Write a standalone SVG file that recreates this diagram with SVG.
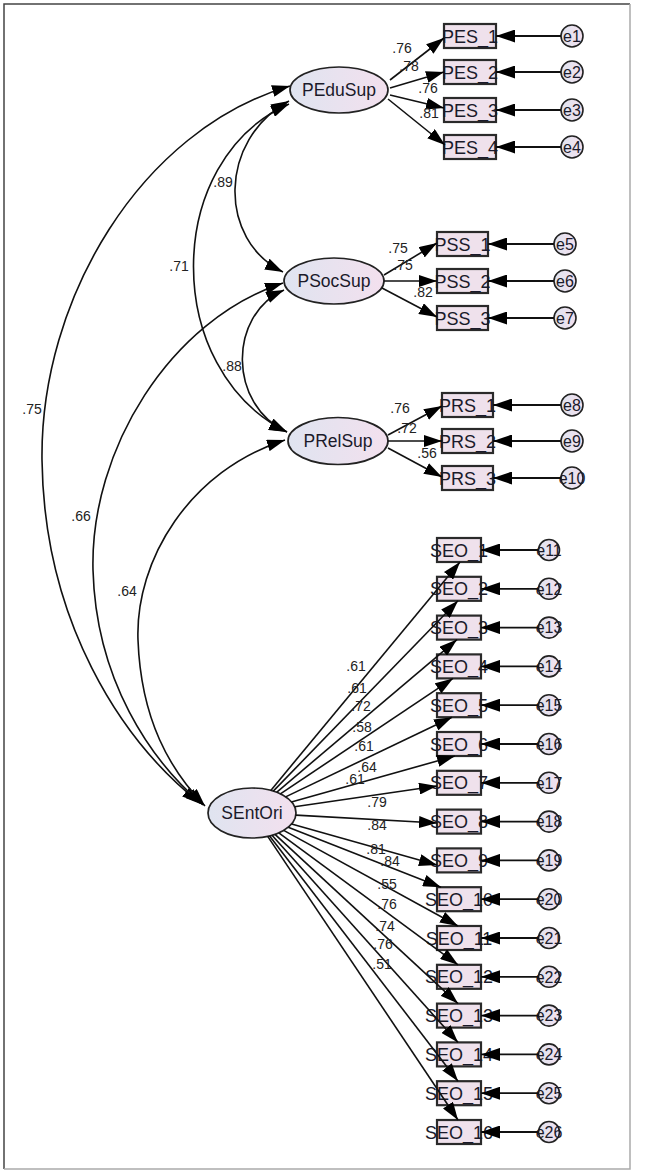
<svg xmlns="http://www.w3.org/2000/svg" width="646" height="1173" viewBox="0 0 646 1173">
<style>
text{font-family:"Liberation Sans",Arial,sans-serif;fill:#1a1a2a;text-anchor:middle}
.lat{font-size:17.5px}
.obs{font-size:18px}
.err{font-size:16px}
.num{font-size:14px;fill:#222}
.ell{stroke:#222;stroke-width:1.7;fill:url(#g)}
.box{stroke:#2a2a2a;stroke-width:2.2;fill:#efe1ec}
.ec{stroke:#222;stroke-width:1.6;fill:url(#g)}
.ln{stroke:#111;stroke-width:1.6;fill:none;marker-end:url(#ah)}
.cv{stroke:#111;stroke-width:1.6;fill:none;marker-start:url(#ah);marker-end:url(#ah)}
.er{stroke:#111;stroke-width:1.8;fill:none;marker-end:url(#eh)}
</style>
<defs>
<linearGradient id="g" x1="0" y1="0" x2="1" y2="0">
<stop offset="0" stop-color="#dfe4f0"/>
<stop offset="1" stop-color="#f3e0ee"/>
</linearGradient>
<marker id="ah" viewBox="0 0 18 12" refX="18" refY="6" markerWidth="18" markerHeight="12" markerUnits="userSpaceOnUse" orient="auto-start-reverse">
<path d="M0,0 L18,6 L0,12 z" fill="#000"/>
</marker>
<marker id="eh" viewBox="0 0 19 13" refX="19" refY="6.5" markerWidth="19" markerHeight="13" markerUnits="userSpaceOnUse" orient="auto">
<path d="M0,0 L19,6.5 L0,13 z" fill="#000"/>
</marker>
</defs>
<rect x="0" y="0" width="646" height="1173" fill="#fff"/>
<g id="frame" fill="none" stroke-width="1.5">
<path d="M4,1169 V4 H630" stroke="#444"/>
<path d="M630,4 V1169 H4" stroke="#aaa"/>
</g>

<g id="node-PEduSup"><ellipse class="ell" cx="339" cy="90" rx="49" ry="23"/><text class="lat" x="339" y="96">PEduSup</text></g>
<g id="node-PSocSup"><ellipse class="ell" cx="334" cy="281" rx="50" ry="23"/><text class="lat" x="334" y="287">PSocSup</text></g>
<g id="node-PRelSup"><ellipse class="ell" cx="338" cy="441" rx="50" ry="23.5"/><text class="lat" x="338" y="447">PRelSup</text></g>
<g id="node-SEntOri"><ellipse class="ell" cx="252" cy="813" rx="44" ry="25"/><text class="lat" x="252" y="819">SEntOri</text></g>

<g id="node-PES_1"><rect class="box" x="444" y="24" width="52" height="24"/><text class="obs" x="470" y="42.5">PES_1</text></g>
<g id="node-PES_2"><rect class="box" x="444" y="60" width="52" height="24"/><text class="obs" x="470" y="78.5">PES_2</text></g>
<g id="node-PES_3"><rect class="box" x="444" y="98" width="52" height="24"/><text class="obs" x="470" y="116.5">PES_3</text></g>
<g id="node-PES_4"><rect class="box" x="444" y="135" width="52" height="24"/><text class="obs" x="470" y="153.5">PES_4</text></g>

<g id="node-PSS_1"><rect class="box" x="437" y="232" width="51" height="24"/><text class="obs" x="462.5" y="250.5">PSS_1</text></g>
<g id="node-PSS_2"><rect class="box" x="437" y="269" width="51" height="24"/><text class="obs" x="462.5" y="287.5">PSS_2</text></g>
<g id="node-PSS_3"><rect class="box" x="437" y="306" width="51" height="24"/><text class="obs" x="462.5" y="324.5">PSS_3</text></g>

<g id="node-PRS_1"><rect class="box" x="442" y="393" width="51" height="24"/><text class="obs" x="467.5" y="411.5">PRS_1</text></g>
<g id="node-PRS_2"><rect class="box" x="442" y="429" width="51" height="24"/><text class="obs" x="467.5" y="447.5">PRS_2</text></g>
<g id="node-PRS_3"><rect class="box" x="442" y="466" width="51" height="24"/><text class="obs" x="467.5" y="484.5">PRS_3</text></g>

<g id="node-SEO_1"><rect class="box" x="437" y="538" width="44" height="24"/><text class="obs" x="459" y="556.5">SEO_1</text></g>
<g id="node-SEO_2"><rect class="box" x="437" y="576.8" width="44" height="24"/><text class="obs" x="459" y="595.3">SEO_2</text></g>
<g id="node-SEO_3"><rect class="box" x="437" y="615.6" width="44" height="24"/><text class="obs" x="459" y="634.1">SEO_3</text></g>
<g id="node-SEO_4"><rect class="box" x="437" y="654.4" width="44" height="24"/><text class="obs" x="459" y="672.9">SEO_4</text></g>
<g id="node-SEO_5"><rect class="box" x="437" y="693.2" width="44" height="24"/><text class="obs" x="459" y="711.7">SEO_5</text></g>
<g id="node-SEO_6"><rect class="box" x="437" y="732" width="44" height="24"/><text class="obs" x="459" y="750.5">SEO_6</text></g>
<g id="node-SEO_7"><rect class="box" x="437" y="770.8" width="44" height="24"/><text class="obs" x="459" y="789.3">SEO_7</text></g>
<g id="node-SEO_8"><rect class="box" x="437" y="809.6" width="44" height="24"/><text class="obs" x="459" y="828.1">SEO_8</text></g>
<g id="node-SEO_9"><rect class="box" x="437" y="848.4" width="44" height="24"/><text class="obs" x="459" y="866.9">SEO_9</text></g>
<g id="node-SEO_10"><rect class="box" x="437" y="887.2" width="44" height="24"/><text class="obs" x="459" y="905.7">SEO_10</text></g>
<g id="node-SEO_11"><rect class="box" x="437" y="926" width="44" height="24"/><text class="obs" x="459" y="944.5">SEO_11</text></g>
<g id="node-SEO_12"><rect class="box" x="437" y="964.8" width="44" height="24"/><text class="obs" x="459" y="983.3">SEO_12</text></g>
<g id="node-SEO_13"><rect class="box" x="437" y="1003.6" width="44" height="24"/><text class="obs" x="459" y="1022.1">SEO_13</text></g>
<g id="node-SEO_14"><rect class="box" x="437" y="1042.4" width="44" height="24"/><text class="obs" x="459" y="1060.9">SEO_14</text></g>
<g id="node-SEO_15"><rect class="box" x="437" y="1081.2" width="44" height="24"/><text class="obs" x="459" y="1099.7">SEO_15</text></g>
<g id="node-SEO_16"><rect class="box" x="437" y="1120" width="44" height="24"/><text class="obs" x="459" y="1138.5">SEO_16</text></g>

<g id="node-e1"><circle class="ec" cx="572" cy="36" r="11"/><text class="err" x="572" y="41.8">e1</text></g>
<g id="node-e2"><circle class="ec" cx="572" cy="72" r="11"/><text class="err" x="572" y="77.8">e2</text></g>
<g id="node-e3"><circle class="ec" cx="572" cy="110" r="11"/><text class="err" x="572" y="115.8">e3</text></g>
<g id="node-e4"><circle class="ec" cx="572" cy="147" r="11"/><text class="err" x="572" y="152.8">e4</text></g>
<g id="node-e5"><circle class="ec" cx="565" cy="244" r="11"/><text class="err" x="565" y="249.8">e5</text></g>
<g id="node-e6"><circle class="ec" cx="565" cy="281" r="11"/><text class="err" x="565" y="286.8">e6</text></g>
<g id="node-e7"><circle class="ec" cx="565" cy="318" r="11"/><text class="err" x="565" y="323.8">e7</text></g>
<g id="node-e8"><circle class="ec" cx="572" cy="405" r="11"/><text class="err" x="572" y="410.8">e8</text></g>
<g id="node-e9"><circle class="ec" cx="572" cy="441" r="11"/><text class="err" x="572" y="446.8">e9</text></g>
<g id="node-e10"><circle class="ec" cx="572" cy="478" r="11"/><text class="err" x="572" y="483.8">e10</text></g>
<g id="node-e11"><circle class="ec" cx="549" cy="550" r="10.5"/><text class="err" x="549" y="555.8">e11</text></g>
<g id="node-e12"><circle class="ec" cx="549" cy="588.8" r="10.5"/><text class="err" x="549" y="594.6">e12</text></g>
<g id="node-e13"><circle class="ec" cx="549" cy="627.6" r="10.5"/><text class="err" x="549" y="633.4">e13</text></g>
<g id="node-e14"><circle class="ec" cx="549" cy="666.4" r="10.5"/><text class="err" x="549" y="672.2">e14</text></g>
<g id="node-e15"><circle class="ec" cx="549" cy="705.2" r="10.5"/><text class="err" x="549" y="711">e15</text></g>
<g id="node-e16"><circle class="ec" cx="549" cy="744" r="10.5"/><text class="err" x="549" y="749.8">e16</text></g>
<g id="node-e17"><circle class="ec" cx="549" cy="782.8" r="10.5"/><text class="err" x="549" y="788.6">e17</text></g>
<g id="node-e18"><circle class="ec" cx="549" cy="821.6" r="10.5"/><text class="err" x="549" y="827.4">e18</text></g>
<g id="node-e19"><circle class="ec" cx="549" cy="860.4" r="10.5"/><text class="err" x="549" y="866.2">e19</text></g>
<g id="node-e20"><circle class="ec" cx="549" cy="899.2" r="10.5"/><text class="err" x="549" y="905">e20</text></g>
<g id="node-e21"><circle class="ec" cx="549" cy="938" r="10.5"/><text class="err" x="549" y="943.8">e21</text></g>
<g id="node-e22"><circle class="ec" cx="549" cy="976.8" r="10.5"/><text class="err" x="549" y="982.6">e22</text></g>
<g id="node-e23"><circle class="ec" cx="549" cy="1015.6" r="10.5"/><text class="err" x="549" y="1021.4">e23</text></g>
<g id="node-e24"><circle class="ec" cx="549" cy="1054.4" r="10.5"/><text class="err" x="549" y="1060.2">e24</text></g>
<g id="node-e25"><circle class="ec" cx="549" cy="1093.2" r="10.5"/><text class="err" x="549" y="1099">e25</text></g>
<g id="node-e26"><circle class="ec" cx="549" cy="1132" r="10.5"/><text class="err" x="549" y="1137.8">e26</text></g>

<g id="connectors">
<path class="cv" d="M289,101 C218,140 218,240 283,272"/>
<path class="cv" d="M289,104 C162,160 162,370 287,432"/>
<path class="cv" d="M284,290 C228,315 228,405 287,432"/>
<path class="cv" d="M290,86 C140,130 40,300 42,460 C44,620 120,740 200,803"/>
<path class="cv" d="M283,283 C170,320 90,450 93,570 C96,680 150,760 203,805"/>
<path class="cv" d="M285,440 C190,470 135,560 138,640 C141,720 170,770 205,806"/>
<path class="ln" d="M390,80 L444,38"/>
<path class="ln" d="M390,88 L444,72"/>
<path class="ln" d="M390,95 L444,108"/>
<path class="ln" d="M388,99 L445,145"/>
<path class="ln" d="M384,275 L437,243"/>
<path class="ln" d="M384,281 L437,281"/>
<path class="ln" d="M382,288 L437,317"/>
<path class="ln" d="M388,435 L442,406"/>
<path class="ln" d="M388,441 L442,441"/>
<path class="ln" d="M388,448 L442,477"/>
<path class="ln" d="M270.8,790.4 L460,562"/>
<path class="ln" d="M273.3,791.1 L458,600.8"/>
<path class="ln" d="M276.6,792.3 L457,639.6"/>
<path class="ln" d="M280.4,793.9 L453,678.4"/>
<path class="ln" d="M285.6,796.9 L452,717.2"/>
<path class="ln" d="M291.4,801.9 L455,756"/>
<path class="ln" d="M294.6,806.8 L437,786"/>
<path class="ln" d="M295.8,815.1 L437,823"/>
<path class="ln" d="M291.6,823.9 L437,865"/>
<path class="ln" d="M288.2,827.2 L441,887.2"/>
<path class="ln" d="M283.7,830.4 L458,926"/>
<path class="ln" d="M278.8,832.8 L458,964.8"/>
<path class="ln" d="M275,834.3 L458,1003.6"/>
<path class="ln" d="M272,835.3 L458,1042.4"/>
<path class="ln" d="M269.6,835.9 L458,1081.2"/>
<path class="ln" d="M267.7,836.4 L458,1120"/>
<path class="er" d="M561,36 H496"/>
<path class="er" d="M561,72 H496"/>
<path class="er" d="M561,110 H496"/>
<path class="er" d="M561,147 H496"/>
<path class="er" d="M554,244 H488"/>
<path class="er" d="M554,281 H488"/>
<path class="er" d="M554,318 H488"/>
<path class="er" d="M561,405 H493"/>
<path class="er" d="M561,441 H493"/>
<path class="er" d="M561,478 H493"/>
<path class="er" d="M538.5,550 H481"/>
<path class="er" d="M538.5,588.8 H481"/>
<path class="er" d="M538.5,627.6 H481"/>
<path class="er" d="M538.5,666.4 H481"/>
<path class="er" d="M538.5,705.2 H481"/>
<path class="er" d="M538.5,744 H481"/>
<path class="er" d="M538.5,782.8 H481"/>
<path class="er" d="M538.5,821.6 H481"/>
<path class="er" d="M538.5,860.4 H481"/>
<path class="er" d="M538.5,899.2 H481"/>
<path class="er" d="M538.5,938 H481"/>
<path class="er" d="M538.5,976.8 H481"/>
<path class="er" d="M538.5,1015.6 H481"/>
<path class="er" d="M538.5,1054.4 H481"/>
<path class="er" d="M538.5,1093.2 H481"/>
<path class="er" d="M538.5,1132 H481"/>
</g>

<g id="labels">
<text class="num" x="223" y="187">.89</text>
<text class="num" x="179" y="271">.71</text>
<text class="num" x="232" y="371">.88</text>
<text class="num" x="32" y="414">.75</text>
<text class="num" x="81" y="521">.66</text>
<text class="num" x="127" y="596">.64</text>
<text class="num" x="402" y="53">.76</text>
<text class="num" x="409" y="71">.78</text>
<text class="num" x="428" y="93">.76</text>
<text class="num" x="429" y="118">.81</text>
<text class="num" x="398" y="253">.75</text>
<text class="num" x="403" y="270">.75</text>
<text class="num" x="423" y="297">.82</text>
<text class="num" x="400" y="413">.76</text>
<text class="num" x="407" y="433">.72</text>
<text class="num" x="427" y="458">.56</text>
<text class="num" x="356" y="671">.61</text>
<text class="num" x="357" y="693">.61</text>
<text class="num" x="361" y="711">.72</text>
<text class="num" x="362" y="732">.58</text>
<text class="num" x="364" y="751">.61</text>
<text class="num" x="367" y="772">.64</text>
<text class="num" x="355" y="784">.61</text>
<text class="num" x="377" y="807">.79</text>
<text class="num" x="377" y="830">.84</text>
<text class="num" x="376" y="854">.81</text>
<text class="num" x="390" y="866">.84</text>
<text class="num" x="387" y="889">.55</text>
<text class="num" x="387" y="909">.76</text>
<text class="num" x="385" y="931">.74</text>
<text class="num" x="383" y="949">.76</text>
<text class="num" x="382" y="969">.51</text>
</g>
</svg>
